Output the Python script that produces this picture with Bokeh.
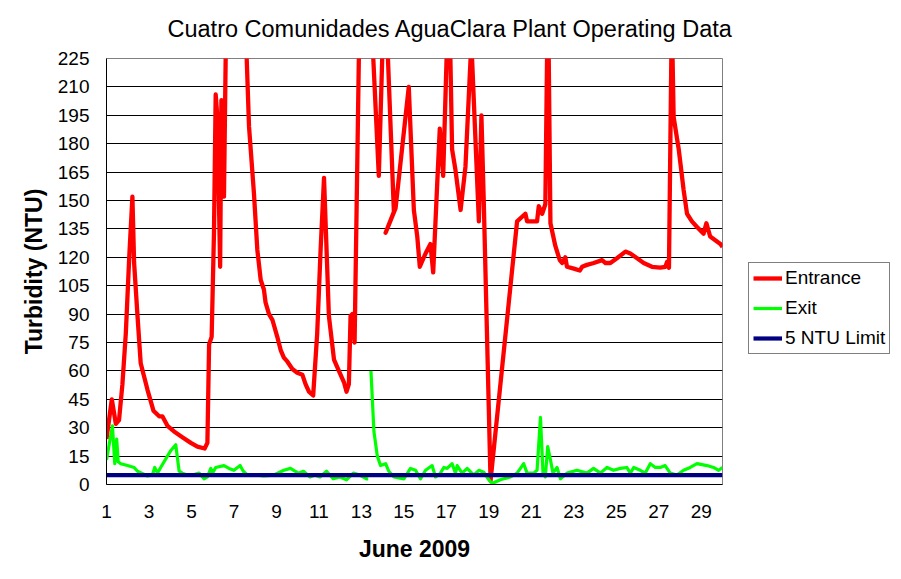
import numpy as np
from bokeh.plotting import figure
from bokeh.models import (Range1d, FixedTicker, Legend, LegendItem, Title,
                          ColumnDataSource)
from bokeh.embed import file_html
from bokeh.resources import INLINE

# ---------------- data ----------------
entrance_day = [
    1.00, 1.25, 1.44, 1.59, 1.75, 1.91, 2.07, 2.22, 2.30, 2.46, 2.61, 2.93,
    3.21, 3.48, 3.63, 3.87, 4.18, 4.57, 4.97, 5.28, 5.62, 5.75, 5.83, 5.95,
    6.06, 6.14, 6.22, 6.35, 6.41, 6.53, 6.61, 6.66, 7.55, 7.60, 7.71, 7.94,
    8.10, 8.26, 8.41, 8.49, 8.65, 8.81, 9.04, 9.20, 9.35, 9.51, 9.75, 9.98,
    10.22, 10.37, 10.53, 10.73, 10.92, 11.08, 11.24, 11.36, 11.47, 11.71,
    11.94, 12.18, 12.30, 12.41, 12.49, 12.57, 12.68, 12.88, 12.92, 13.52,
    13.56, 13.82, 13.98, 14.02, 14.21, 14.25, 14.53, 14.14, 14.61, 15.23,
    15.47, 15.63, 15.75, 16.02, 16.25, 16.38, 16.57, 16.69, 16.85, 17.01,
    17.05, 17.15, 17.19, 17.27, 17.43, 17.67, 17.90, 18.14, 18.17, 18.21,
    18.53, 18.65, 18.76, 19.08, 20.33, 20.72, 20.80, 21.27, 21.35, 21.51,
    21.66, 21.74, 21.76, 21.80, 21.82, 21.90, 22.13, 22.34, 22.45, 22.60,
    22.68, 23.00, 23.28, 23.39, 23.62, 23.94, 24.33, 24.49, 24.72, 25.03,
    25.43, 25.66, 25.98, 26.29, 26.68, 27.07, 27.31, 27.39, 27.48, 27.59,
    27.62, 27.65, 27.70, 27.94, 28.17, 28.33, 28.56, 28.80, 29.11, 29.24,
    29.42, 29.66, 29.90, 30.00]
entrance_ntu = [
    24, 45, 32, 34, 53, 80, 120, 152, 117, 89, 64, 50,
    39, 36, 36, 31, 28, 25, 22, 20, 19, 22, 74, 78,
    133, 206, 194, 115, 203, 152, 225, 270, 270, 225, 189, 154,
    124, 108, 103, 96, 90, 87, 78, 71, 67, 65, 61, 59,
    58, 53, 49, 47, 80, 124, 162, 124, 89, 66,
    60, 54, 49, 53, 89, 90, 75, 225, 270, 270,
    225, 163, 225, 270, 270, 225, 144, 133, 146, 210,
    145, 131, 115, 122, 127, 112, 159, 188, 163, 225,
    270, 270, 225, 177, 166, 145, 168, 225, 260, 225,
    139, 195, 150, 2, 139, 143, 139, 139, 147, 143,
    148, 225, 270, 270, 225, 138, 126, 118.5, 117, 120,
    115, 114, 113, 115, 116, 117, 118.5, 117, 117, 119.5,
    123, 122, 119.5, 117, 115, 114.5, 115, 117.5, 114.5, 225,
    260, 225, 194, 177, 155.5, 143, 139, 136, 132.5, 138,
    131, 129, 127, 125.5]

nan = float("nan")
exit_day = [
    1.00, 1.28, 1.39, 1.48, 1.55, 1.67, 1.99, 2.30, 2.46, 2.93, 3.16, 3.27,
    3.40, 3.55, 4.03, 4.26, 4.42, 4.57, 4.81, 5.04, 5.36, 5.59, 5.75, 5.91,
    5.99, 6.14, 6.53, 6.77, 7.00, 7.29, 7.44, 7.63, 8.00, 8.40, 8.88, 9.35,
    9.66, 10.03, 10.27, 10.58, 10.81, 11.05, 11.36, 11.67, 11.99, 12.30,
    12.62, 12.93, 13.24, 13.32, nan, 13.45, 13.59, 13.75, 13.90, 14.14,
    14.29, 14.53, 15.00, 15.31, 15.55, 15.78, 16.02, 16.33, 16.49, 16.72,
    16.88, 17.04, 17.27, 17.43, 17.51, 17.74, 17.98, 18.29, 18.53, 18.76,
    19.00, 19.15, 19.54, 20.02, 20.33, 20.64, 20.80, 21.11, 21.27, 21.43,
    21.55, 21.66, 21.77, 21.90, 22.02, 22.21, 22.37, 22.68, 23.15, 23.62,
    23.93, 24.25, 24.56, 24.87, 25.19, 25.50, 25.66, 25.82, 26.13, 26.36,
    26.60, 26.84, 27.07, 27.30, 27.54, 27.85, 28.17, 28.48, 28.80, 29.27,
    29.58, 29.82, 30.00]
exit_ntu = [
    13, 31, 11, 24, 12, 11, 10, 9, 7, 4.5, 5, 9,
    6, 9, 18, 21, 7, 6, 5, 5, 6, 3, 4, 8.5,
    6, 9, 10, 8.5, 7.5, 10, 7, 5, 5, 4.5, 5, 7.5,
    8.5, 6, 7, 4, 5, 4, 7, 3, 4, 2.5,
    6, 5, 3, 3, nan, 60, 28, 15, 10, 11,
    7, 4, 3, 8.5, 7.5, 3, 7.5, 10, 4, 6,
    9, 8.5, 11, 6, 10, 6, 8.5, 5, 7.5, 6.5,
    2.5, 0.5, 2.5, 4, 6, 11, 6, 6, 7.5, 35.5,
    6, 4, 20, 13, 6, 9, 3, 6, 7.5, 6,
    8.5, 6, 9, 7.5, 8.5, 9, 6, 9, 7.5, 6,
    11, 9, 9, 10, 6, 5, 7.5, 9, 11, 10,
    9, 7.5, 9]

limit_day = [1, 30]
limit_ntu = [5, 5]

x_ticks = [1, 3, 5, 7, 9, 11, 13, 15, 17, 19, 21, 23, 25, 27, 29]
y_ticks = [0, 15, 30, 45, 60, 75, 90, 105, 120, 135, 150, 165, 180, 195, 210, 225]

title_text = "Cuatro Comunidades AguaClara Plant Operating Data"
x_label = "June 2009"
y_label = "Turbidity (NTU)"
series_names = ["Entrance", "Exit", "5 NTU Limit"]

# ---------------- figure ----------------
FONT = "Liberation Sans"

p = figure(frame_width=616, frame_height=426,
           min_border_left=106, min_border_right=171,
           min_border_top=58, min_border_bottom=87,
           x_range=Range1d(1, 30), y_range=Range1d(0, 225),
           output_backend="svg", toolbar_location=None,
           background_fill_color="white", border_fill_color="white")

title = Title(text=title_text, align="left", offset=61, standoff=30,
              vertical_align="top",
              text_font=FONT, text_font_size="23.5px", text_font_style="normal",
              text_color="black")
p.add_layout(title, "above")

p.outline_line_color = "#808080"
p.outline_line_width = 1

p.xgrid.grid_line_color = None
p.ygrid.grid_line_color = "black"
p.ygrid.grid_line_width = 1
p.ygrid.ticker = FixedTicker(ticks=y_ticks)

p.xaxis.ticker = FixedTicker(ticks=x_ticks)
p.yaxis.ticker = FixedTicker(ticks=y_ticks)

for ax in (p.xaxis, p.yaxis):
    ax.axis_line_color = "black"
    ax.axis_line_width = 1
    ax.major_tick_line_color = None
    ax.minor_tick_line_color = None
    ax.major_tick_out = 0
    ax.major_tick_in = 0
    ax.major_label_text_font = FONT
    ax.major_label_text_font_size = "19px"
    ax.major_label_text_color = "black"
    ax.axis_label_text_font = FONT
    ax.axis_label_text_font_size = "23px"
    ax.axis_label_text_font_style = "bold"
    ax.axis_label_text_color = "black"

p.xaxis.axis_label = x_label
p.yaxis.axis_label = y_label
p.xaxis.major_label_standoff = 20
p.yaxis.major_label_standoff = 17
p.xaxis.axis_label_standoff = 15
p.yaxis.axis_label_standoff = 8

src_e = ColumnDataSource(dict(x=entrance_day, y=entrance_ntu))
src_x = ColumnDataSource(dict(x=np.array(exit_day, dtype=float),
                              y=np.array(exit_ntu, dtype=float)))
src_l = ColumnDataSource(dict(x=limit_day, y=limit_ntu))

r_e = p.line("x", "y", source=src_e, line_color="#FF0000", line_width=4.3,
             line_join="round")
r_x = p.line("x", "y", source=src_x, line_color="#00FF00", line_width=3.2,
             line_join="round")
r_l = p.line("x", "y", source=src_l, line_color="#000080", line_width=4.2)

legend = Legend(items=[LegendItem(label=series_names[0], renderers=[r_e]),
                       LegendItem(label=series_names[1], renderers=[r_x]),
                       LegendItem(label=series_names[2], renderers=[r_l])],
                location=(26, 130))
legend.label_text_font = FONT
legend.label_text_font_size = "19px"
legend.label_text_color = "black"
legend.border_line_color = "black"
legend.border_line_width = 1
legend.background_fill_color = "white"
legend.background_fill_alpha = 1
legend.padding = 4
legend.spacing = 8
legend.glyph_width = 29
legend.glyph_height = 20
legend.label_height = 20
legend.label_standoff = 3
legend.margin = 0
p.add_layout(legend, "right")

open("out.html", "w").write(file_html(p, INLINE))
